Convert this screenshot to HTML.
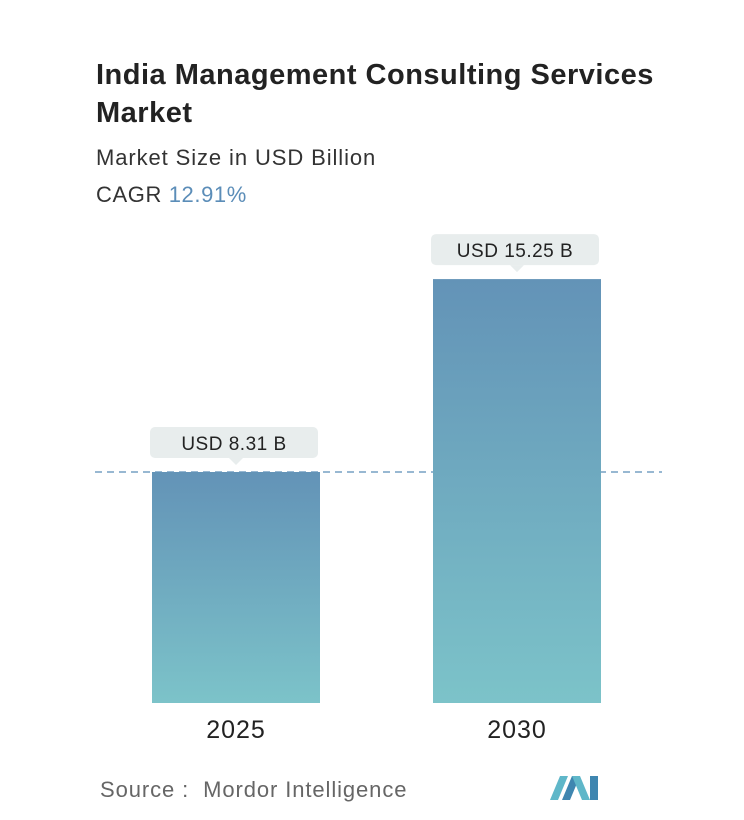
<!DOCTYPE html>
<html><head><meta charset="utf-8"><style>
body{margin:0;background:#fff;font-family:"Liberation Sans",sans-serif;}
#wrap{position:relative;width:744px;height:820px;overflow:hidden;background:#fff}
.t{position:absolute;white-space:nowrap}
</style></head><body>
<div id="wrap">
<div class="t" style="left:96px;top:56px;font-size:29px;font-weight:bold;color:#222;line-height:38px;letter-spacing:0.5px">India Management Consulting Services<br>Market</div>
<div class="t" style="left:96px;top:145px;font-size:22px;color:#333;letter-spacing:0.9px">Market Size in USD Billion</div>
<div class="t" style="left:96px;top:182px;font-size:22px;color:#333;letter-spacing:0.6px">CAGR <span style="color:#5b8db8">12.91%</span></div>
<svg id="chart" width="744" height="820" style="position:absolute;left:0;top:0">
<defs><linearGradient id="g" x1="0" y1="0" x2="0" y2="1"><stop offset="0" stop-color="#6393b7"/><stop offset="1" stop-color="#7cc3c9"/></linearGradient></defs>
</svg>
<div class="t" style="left:100px;top:777px;font-size:22px;color:#666;letter-spacing:0.9px">Source :&nbsp; Mordor Intelligence</div>
<svg width="52" height="28" style="position:absolute;left:550px;top:774px">
<polygon points="0,26 10,2 18,2 8,26" fill="#5fb7c9"/><polygon points="12,26 22,2 30,2 20,26" fill="#3f86b0"/><polygon points="22,2 30,2 40,26 32,26" fill="#5fb7c9"/><polygon points="40,2 48,2 48,26 40,26" fill="#3f86b0"/>
</svg>
</div>
<script>
const categories=["2025","2030"];
const values=[8.31,15.25];
const labels=["USD 8.31 B","USD 15.25 B"];
const svg=document.getElementById('chart');
const NS='http://www.w3.org/2000/svg';
const baseY=703,pxPer=231/8.31;
const y=v=>baseY-v*pxPer;
const xLeft=[152,433],bw=168;
function mk(t,a){const e=document.createElementNS(NS,t);for(const k in a)e.setAttribute(k,a[k]);svg.appendChild(e);return e;}
const dl=mk('line',{x1:95,x2:662,y1:y(values[0]),y2:y(values[0]),stroke:'#5b8db8','stroke-width':1.3,'stroke-dasharray':'7,5'});


categories.forEach((c,i)=>{
 const top=y(values[i]);
 const r=mk('rect',{x:xLeft[i],y:top,width:bw,height:baseY-top,fill:'url(#g)'});
 
 
 const cx=xLeft[i]+bw/2;
 const w=168;
 const b=mk('rect',{x:cx-w/2-2,y:top-45,width:w,height:31,rx:5,fill:'#e8eded'});
 
 
 mk('polygon',{points:`${cx-7},${top-14} ${cx+7},${top-14} ${cx},${top-7}`,fill:'#e8eded'});
 const t=mk('text',{x:cx-2,y:top-22,'text-anchor':'middle','font-size':19,fill:'#222','font-family':'Liberation Sans, sans-serif','letter-spacing':0.5});
 t.textContent=labels[i];
 
 
 const xl=mk('text',{x:cx,y:738,'text-anchor':'middle','font-size':25,fill:'#222','font-family':'Liberation Sans, sans-serif','letter-spacing':1});
 xl.textContent=c;
 
 
});
</script>
</body></html>
